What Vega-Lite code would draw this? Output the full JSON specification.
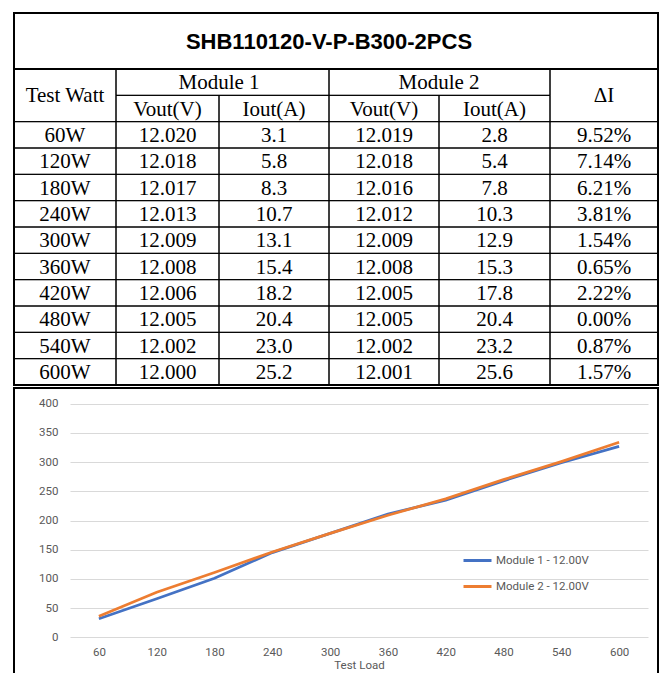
{
  "$schema": "https://vega.github.io/schema/vega-lite/v6.json",
  "background": "white",
  "padding": {"left": 12, "top": 11, "right": 4, "bottom": 0},
  "spacing": 0,
  "config": {"view": {"stroke": null}},
  "datasets": {
    "head": [
      {"label": "SHB110120-V-P-B300-2PCS", "kind": "title", "c0": 0, "c1": 6, "r0": 0, "r1": 1},
      {"label": "Test Watt", "kind": "head", "c0": 0, "c1": 1, "r0": 1, "r1": 3},
      {"label": "Module 1", "kind": "head", "c0": 1, "c1": 3, "r0": 1, "r1": 2},
      {"label": "Module 2", "kind": "head", "c0": 3, "c1": 5, "r0": 1, "r1": 2},
      {"label": "ΔI", "kind": "head", "c0": 5, "c1": 6, "r0": 1, "r1": 3},
      {"label": "Vout(V)", "kind": "head", "c0": 1, "c1": 2, "r0": 2, "r1": 3},
      {"label": "Iout(A)", "kind": "head", "c0": 2, "c1": 3, "r0": 2, "r1": 3},
      {"label": "Vout(V)", "kind": "head", "c0": 3, "c1": 4, "r0": 2, "r1": 3},
      {"label": "Iout(A)", "kind": "head", "c0": 4, "c1": 5, "r0": 2, "r1": 3}
    ],
    "rows": [
      {"watt": "60W", "v1": "12.020", "i1": "3.1", "v2": "12.019", "i2": "2.8", "di": "9.52%"},
      {"watt": "120W", "v1": "12.018", "i1": "5.8", "v2": "12.018", "i2": "5.4", "di": "7.14%"},
      {"watt": "180W", "v1": "12.017", "i1": "8.3", "v2": "12.016", "i2": "7.8", "di": "6.21%"},
      {"watt": "240W", "v1": "12.013", "i1": "10.7", "v2": "12.012", "i2": "10.3", "di": "3.81%"},
      {"watt": "300W", "v1": "12.009", "i1": "13.1", "v2": "12.009", "i2": "12.9", "di": "1.54%"},
      {"watt": "360W", "v1": "12.008", "i1": "15.4", "v2": "12.008", "i2": "15.3", "di": "0.65%"},
      {"watt": "420W", "v1": "12.006", "i1": "18.2", "v2": "12.005", "i2": "17.8", "di": "2.22%"},
      {"watt": "480W", "v1": "12.005", "i1": "20.4", "v2": "12.005", "i2": "20.4", "di": "0.00%"},
      {"watt": "540W", "v1": "12.002", "i1": "23.0", "v2": "12.002", "i2": "23.2", "di": "0.87%"},
      {"watt": "600W", "v1": "12.000", "i1": "25.2", "v2": "12.001", "i2": "25.6", "di": "1.57%"}
    ],
    "load": [
      {"load": 60, "series": "Module 1 - 12.00V", "value": 31.7},
      {"load": 120, "series": "Module 1 - 12.00V", "value": 66},
      {"load": 180, "series": "Module 1 - 12.00V", "value": 101},
      {"load": 240, "series": "Module 1 - 12.00V", "value": 145},
      {"load": 300, "series": "Module 1 - 12.00V", "value": 178},
      {"load": 360, "series": "Module 1 - 12.00V", "value": 211},
      {"load": 420, "series": "Module 1 - 12.00V", "value": 235},
      {"load": 480, "series": "Module 1 - 12.00V", "value": 268},
      {"load": 540, "series": "Module 1 - 12.00V", "value": 299},
      {"load": 600, "series": "Module 1 - 12.00V", "value": 327},
      {"load": 60, "series": "Module 2 - 12.00V", "value": 36},
      {"load": 120, "series": "Module 2 - 12.00V", "value": 77},
      {"load": 180, "series": "Module 2 - 12.00V", "value": 111},
      {"load": 240, "series": "Module 2 - 12.00V", "value": 146},
      {"load": 300, "series": "Module 2 - 12.00V", "value": 178},
      {"load": 360, "series": "Module 2 - 12.00V", "value": 209},
      {"load": 420, "series": "Module 2 - 12.00V", "value": 237},
      {"load": 480, "series": "Module 2 - 12.00V", "value": 270},
      {"load": 540, "series": "Module 2 - 12.00V", "value": 301},
      {"load": 600, "series": "Module 2 - 12.00V", "value": 334}
    ]
  },
  "vconcat": [
    {
      "width": 644,
      "height": 372,
      "view": {"stroke": "black", "strokeWidth": 2},
      "layer": [
        {
          "data": {"name": "rows"},
          "transform": [
            {"window": [{"op": "row_number", "as": "rn"}]},
            {"fold": ["watt", "v1", "i1", "v2", "i2", "di"], "as": ["col", "val"]},
            {"calculate": "indexof(['watt','v1','i1','v2','i2','di'], datum.col)", "as": "c0"},
            {"calculate": "datum.c0 + 1", "as": "c1"},
            {"calculate": "datum.rn + 2", "as": "r0"},
            {"calculate": "datum.rn + 3", "as": "r1"}
          ],
          "mark": {"type": "rect", "filled": false, "stroke": "black", "strokeWidth": 1},
          "encoding": {
            "x": {"field": "c0", "type": "quantitative", "scale": {"domain": [0, 1, 2, 3, 4, 5, 6], "range": [0, 102, 205, 315, 425, 536, 644], "zero": false, "nice": false}, "axis": null},
            "x2": {"field": "c1"},
            "y": {"field": "r0", "type": "quantitative", "scale": {"domain": [0, 1, 13], "range": [0, 56, 372], "zero": false, "nice": false}, "axis": null},
            "y2": {"field": "r1"}
          }
        },
        {
          "data": {"name": "rows"},
          "transform": [
            {"window": [{"op": "row_number", "as": "rn"}]},
            {"fold": ["watt", "v1", "i1", "v2", "i2", "di"], "as": ["col", "val"]},
            {"calculate": "indexof(['watt','v1','i1','v2','i2','di'], datum.col) + 0.5", "as": "cx"},
            {"calculate": "datum.rn + 2.5", "as": "cy"}
          ],
          "mark": {"type": "text", "font": "Liberation Serif", "fontSize": 21, "baseline": "middle", "align": "center", "dy": 1, "color": "black"},
          "encoding": {
            "x": {"field": "cx", "type": "quantitative"},
            "y": {"field": "cy", "type": "quantitative"},
            "text": {"field": "val"}
          }
        },
        {
          "data": {"name": "head"},
          "transform": [{"filter": "datum.kind === 'head'"}],
          "mark": {"type": "rect", "filled": false, "stroke": "black", "strokeWidth": 1},
          "encoding": {
            "x": {"field": "c0", "type": "quantitative"},
            "x2": {"field": "c1"},
            "y": {"field": "r0", "type": "quantitative"},
            "y2": {"field": "r1"}
          }
        },
        {
          "data": {"name": "head"},
          "transform": [{"filter": "datum.kind === 'title'"}],
          "mark": {"type": "rect", "filled": false, "stroke": "black", "strokeWidth": 2},
          "encoding": {
            "x": {"field": "c0", "type": "quantitative"},
            "x2": {"field": "c1"},
            "y": {"field": "r0", "type": "quantitative"},
            "y2": {"field": "r1"}
          }
        },
        {
          "data": {"name": "head"},
          "transform": [
            {"filter": "datum.kind === 'head'"},
            {"calculate": "(datum.c0 + datum.c1) / 2", "as": "cx"},
            {"calculate": "(datum.r0 + datum.r1) / 2", "as": "cy"}
          ],
          "mark": {"type": "text", "font": "Liberation Serif", "fontSize": 21, "baseline": "middle", "align": "center", "dy": 1, "color": "black"},
          "encoding": {
            "x": {"field": "cx", "type": "quantitative"},
            "y": {"field": "cy", "type": "quantitative"},
            "text": {"field": "label"}
          }
        },
        {
          "data": {"name": "head"},
          "transform": [
            {"filter": "datum.kind === 'title'"},
            {"calculate": "(datum.c0 + datum.c1) / 2", "as": "cx"},
            {"calculate": "(datum.r0 + datum.r1) / 2", "as": "cy"}
          ],
          "mark": {"type": "text", "font": "Liberation Sans", "fontSize": 22, "fontWeight": "bold", "baseline": "middle", "align": "center", "dy": 1, "color": "black"},
          "encoding": {
            "x": {"field": "cx", "type": "quantitative"},
            "y": {"field": "cy", "type": "quantitative"},
            "text": {"field": "label"}
          }
        }
      ]
    },
    {
      "width": 644,
      "height": 292,
      "view": {"stroke": "black", "strokeWidth": 2},
      "data": {"name": "load"},
      "mark": {"type": "line", "strokeWidth": 2.75},
      "encoding": {
        "x": {
          "field": "load",
          "type": "ordinal",
          "scale": {"type": "point", "range": [56, 634], "padding": 0.5},
          "axis": {"title": "Test Load", "labelAngle": 0, "domain": false, "ticks": false, "grid": false, "offset": -42.8, "labelPadding": 9.5, "labelFont": "Roboto", "labelFontSize": 11.5, "labelColor": "#595959", "titleFont": "Roboto", "titleFontSize": 11.5, "titleFontWeight": "normal", "titleColor": "#595959", "titlePadding": 1}
        },
        "y": {
          "field": "value",
          "type": "quantitative",
          "scale": {"domain": [0, 400], "range": [249.2, 15.8], "nice": false},
          "axis": {"title": null, "values": [0, 50, 100, 150, 200, 250, 300, 350, 400], "domain": false, "ticks": false, "offset": -44, "labelPadding": 0, "labelFont": "Roboto", "labelFontSize": 11.5, "labelColor": "#595959", "gridColor": "#d9d9d9", "gridWidth": 1.2}
        },
        "color": {
          "field": "series",
          "type": "nominal",
          "scale": {"domain": ["Module 1 - 12.00V", "Module 2 - 12.00V"], "range": ["#4472C4", "#ED7D31"]},
          "legend": {"orient": "none", "legendX": 448, "legendY": 532, "title": null, "symbolType": "stroke", "symbolStrokeWidth": 3, "symbolSize": 784, "labelFont": "Roboto", "labelFontSize": 11.5, "labelColor": "#595959", "rowPadding": 4, "labelOffset": 3}
        }
      }
    }
  ]
}
